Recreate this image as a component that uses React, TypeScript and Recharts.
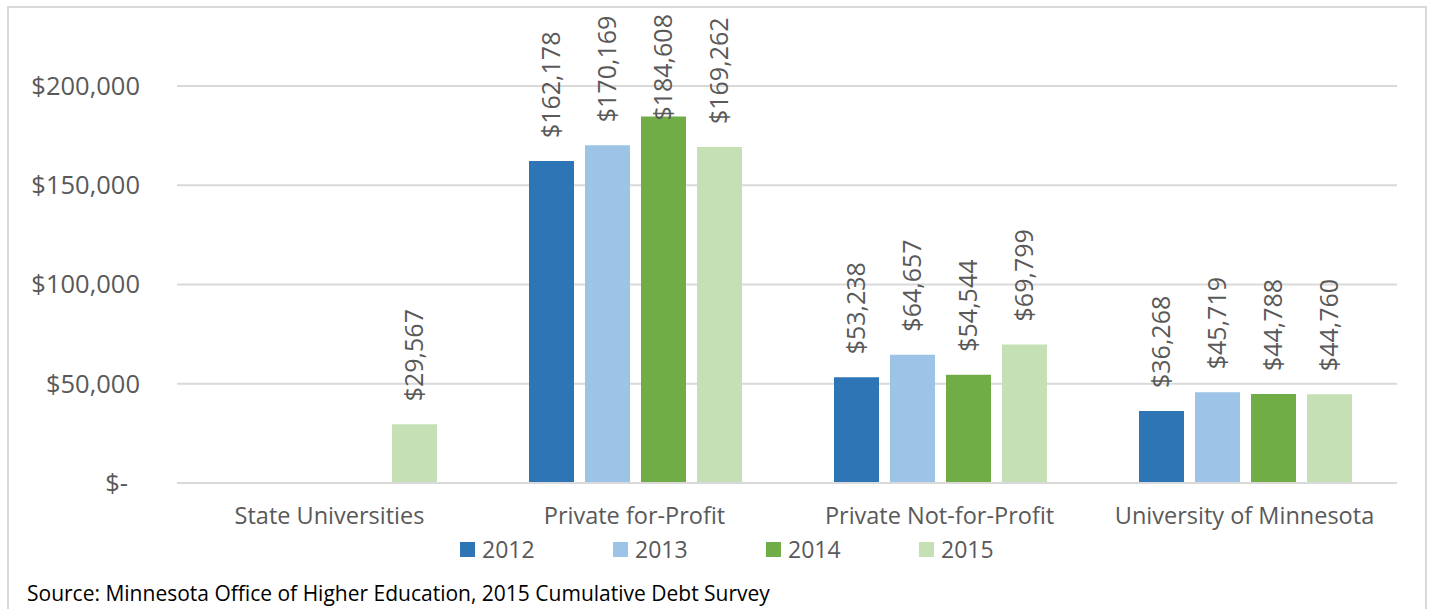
import React from "react";
import { BarChart, Bar, XAxis, YAxis, CartesianGrid, LabelList } from "recharts";

const categories = ["State Universities", "Private for-Profit", "Private Not-for-Profit", "University of Minnesota"];
const years = ["2012", "2013", "2014", "2015"];
const values2012: (number | null)[] = [null, 162178, 53238, 36268];
const values2013: (number | null)[] = [null, 170169, 64657, 45719];
const values2014: (number | null)[] = [null, 184608, 54544, 44788];
const values2015: (number | null)[] = [29567, 169262, 69799, 44760];
const yTicks = [0, 50000, 100000, 150000, 200000];
const colors = ["#2E75B6", "#9DC3E6", "#70AD47", "#C5E0B4"];
const sourceText = "Source: Minnesota Office of Higher Education, 2015 Cumulative Debt Survey";

const seriesValues = [values2012, values2013, values2014, values2015];
const data = categories.map((name, i) => {
  const row: Record<string, any> = { name };
  years.forEach((y, k) => {
    row[y] = seriesValues[k][i];
  });
  return row;
});

const FONT = "'Open Sans', sans-serif";
const TEXT = "#595959";

const fmtMoney = (v: number) => "$" + v.toLocaleString("en-US");

const YTick = (props: any) => {
  const { x, y, payload } = props;
  const v = payload.value as number;
  const label = v === 0 ? "$-" : fmtMoney(v);
  return (
    <text x={v === 0 ? x - 12 : x} y={y} dy="0.35em" textAnchor="end" fill={TEXT} fontSize={25.5} fontFamily={FONT}>
      {label}
    </text>
  );
};

const XTick = (props: any) => {
  const { x, y, payload } = props;
  return (
    <text x={x} y={y} dy="0.71em" textAnchor="middle" fill={TEXT} fontSize={23.5} fontFamily={FONT}>
      {payload.value}
    </text>
  );
};

const BarLabel = (props: any) => {
  const { x, y, width, value } = props;
  if (value === null || value === undefined) return null;
  const text = fmtMoney(value as number);
  const cx = x + width / 2;
  const len = text.length * 13.2;
  const ys = Math.max(y - 23, 15 + len);
  return (
    <text
      x={cx}
      y={ys}
      dy="0.35em"
      textAnchor="start"
      fill={TEXT}
      fontSize={25}
      fontFamily={FONT}
      transform={`rotate(-90, ${cx}, ${ys})`}
    >
      {text}
    </text>
  );
};

export default function App() {
  return (
    <div style={{ position: "absolute", left: 0, top: 0, width: 1431, height: 609, background: "#fff", overflow: "hidden" }}>
      <div
        style={{
          position: "absolute",
          left: 7,
          top: 6,
          width: 1420,
          height: 640,
          border: "2px solid #D9D9D9",
          boxSizing: "border-box",
        }}
      />
      <div style={{ position: "absolute", left: 0, top: 0 }}>
        <BarChart
          width={1431}
          height={609}
          data={data}
          margin={{ top: 86, right: 34, bottom: 96, left: 0 }}
          barCategoryGap={47}
          barGap={11}
        >
          <CartesianGrid vertical={false} stroke="#D9D9D9" strokeWidth={2} />
          <XAxis
            dataKey="name"
            height={30}
            axisLine={{ stroke: "#D9D9D9", strokeWidth: 2 }}
            tickLine={false}
            tickSize={0}
            tickMargin={24}
            tick={<XTick />}
            interval={0}
          />
          <YAxis
            width={177}
            domain={[0, 200000]}
            ticks={yTicks}
            axisLine={false}
            tickLine={false}
            tickSize={0}
            tickMargin={37}
            tick={<YTick />}
          />
          {years.map((yr, k) => (
            <Bar key={yr} dataKey={yr} fill={colors[k]} isAnimationActive={false}>
              <LabelList dataKey={yr} content={<BarLabel />} />
            </Bar>
          ))}
        </BarChart>
      </div>
      <div style={{ position: "absolute", left: 460, top: 537, display: "flex", fontFamily: FONT }}>
        {years.map((yr, k) => (
          <div key={yr} style={{ display: "flex", alignItems: "center", width: 153 }}>
            <div style={{ width: 15, height: 15, background: colors[k], marginRight: 7 }} />
            <span style={{ fontSize: 23, color: TEXT, lineHeight: "24px" }}>{yr}</span>
          </div>
        ))}
      </div>
      <div
        style={{
          position: "absolute",
          left: 27,
          top: 579,
          fontFamily: FONT,
          fontSize: 21,
          color: "#000",
          whiteSpace: "nowrap",
          lineHeight: "28px",
        }}
      >
        {sourceText}
      </div>
    </div>
  );
}
